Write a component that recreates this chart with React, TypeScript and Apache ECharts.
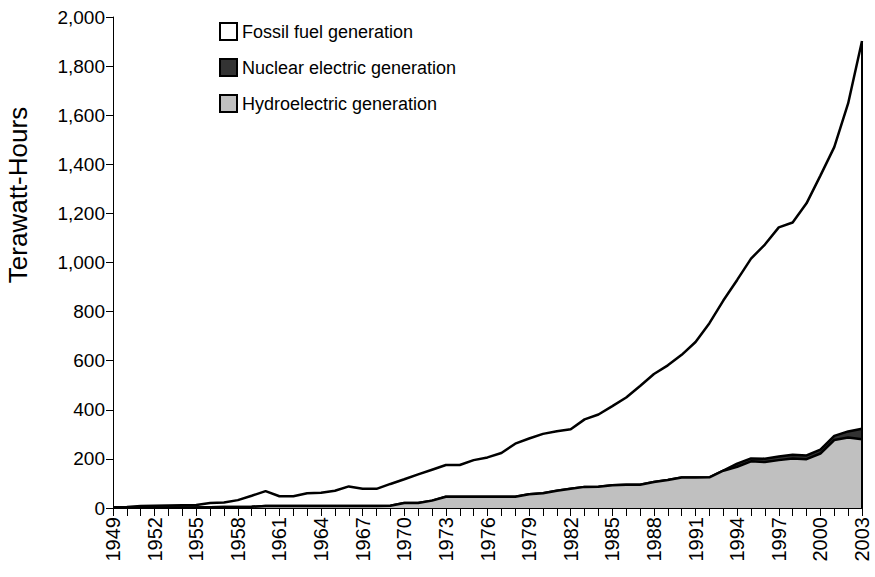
import React, { useEffect, useRef } from "react";
import * as echarts from "echarts";

const years: string[] = [];
for (let y = 1949; y <= 2003; y++) years.push(String(y));

const hydro = [
  1, 1, 1, 1, 2, 2, 2, 3, 4, 4,
  5, 8, 8, 8, 8, 8, 8, 8, 8, 8,
  9, 20, 20, 30, 46, 46, 46, 46, 46, 46,
  56, 60, 70, 78, 86, 87, 93, 95, 95, 106,
  114, 124, 124, 125, 152, 168, 190, 187, 195, 202,
  199, 222, 277, 287, 280,
];

const nuclear = [
  0, 0, 0, 0, 0, 0, 0, 0, 0, 0,
  0, 0, 0, 0, 0, 0, 0, 0, 0, 0,
  0, 0, 0, 0, 0, 0, 0, 0, 0, 0,
  0, 0, 0, 0, 0, 0, 0, 0, 0, 0,
  0, 0, 0, 0, 0, 13, 12, 14, 15, 15,
  15, 16, 17, 25, 43,
];

const fossil = [
  2, 3, 7, 8, 8, 9, 10, 17, 18, 28,
  45, 61, 40, 40, 52, 54, 62, 80, 70, 70,
  89, 97, 117, 126, 129, 129, 149, 160, 178, 216,
  227, 242, 243, 243, 275, 294, 322, 355, 402, 440,
  467, 500, 552, 628, 693, 748, 814, 872, 933, 946,
  1027, 1116, 1176, 1336, 1579,
];

const FONT = "'Liberation Sans', Arial, sans-serif";

export default function App() {
  const ref = useRef<HTMLDivElement>(null);
  useEffect(() => {
    if (!ref.current) return;
    const chart = echarts.init(ref.current, null, { renderer: "svg" });
    const last = years.length - 1;
    const lastTotal = hydro[last] + nuclear[last] + fossil[last];
    const lineStyle = { color: "#000", width: 2.5 };
    chart.setOption({
      animation: false,
      backgroundColor: "#fff",
      textStyle: { fontFamily: FONT, color: "#000" },
      grid: { left: 113, right: 13, top: 17, bottom: 69, containLabel: false },
      legend: {
        orient: "vertical",
        left: 214,
        top: 17,
        itemWidth: 17,
        itemHeight: 17,
        itemGap: 17,
        icon: "rect",
        textStyle: { fontSize: 18, color: "#000", fontFamily: FONT },
        data: [
          { name: "Fossil fuel generation", itemStyle: { color: "#fff", borderColor: "#000", borderWidth: 2 } },
          { name: "Nuclear electric generation", itemStyle: { color: "#333", borderColor: "#000", borderWidth: 2 } },
          { name: "Hydroelectric generation", itemStyle: { color: "#c0c0c0", borderColor: "#000", borderWidth: 2 } },
        ],
      },
      xAxis: {
        type: "category",
        data: years,
        boundaryGap: false,
        axisLine: { lineStyle: { color: "#000", width: 1 } },
        axisTick: { interval: 0, length: 8, lineStyle: { color: "#000" } },
        axisLabel: {
          interval: 2,
          rotate: 90,
          fontSize: 20,
          color: "#000",
          fontFamily: FONT,
          margin: 9,
        },
        splitLine: { show: false },
      },
      yAxis: {
        type: "value",
        min: 0,
        max: 2000,
        interval: 200,
        axisLine: { show: true, lineStyle: { color: "#000", width: 1 } },
        axisTick: { show: true, length: 7, lineStyle: { color: "#000" } },
        axisLabel: {
          fontSize: 19,
          color: "#000",
          fontFamily: FONT,
          margin: 8,
          formatter: (v: number) => v.toLocaleString("en-US"),
        },
        splitLine: { show: false },
      },
      graphic: [
        {
          type: "text",
          x: 18,
          y: 195,
          rotation: Math.PI / 2,
          style: {
            text: "Terawatt-Hours",
            fontSize: 26,
            fontFamily: FONT,
            fill: "#000",
            align: "center",
            verticalAlign: "middle",
          },
        },
      ],
      series: [
        {
          name: "Hydroelectric generation",
          type: "line",
          stack: "total",
          data: hydro,
          showSymbol: false,
          symbol: "none",
          lineStyle,
          itemStyle: { color: "#c0c0c0" },
          areaStyle: { color: "#c0c0c0", opacity: 1 },
          z: 3,
        },
        {
          name: "Nuclear electric generation",
          type: "line",
          stack: "total",
          data: nuclear,
          showSymbol: false,
          symbol: "none",
          lineStyle,
          itemStyle: { color: "#333" },
          areaStyle: { color: "#333", opacity: 1 },
          z: 2,
        },
        {
          name: "Fossil fuel generation",
          type: "line",
          stack: "total",
          data: fossil,
          showSymbol: false,
          symbol: "none",
          lineStyle,
          itemStyle: { color: "#fff" },
          areaStyle: { color: "#fff", opacity: 1 },
          z: 1,
          markLine: {
            silent: true,
            symbol: "none",
            label: { show: false },
            lineStyle: { color: "#000", width: 2, type: "solid" },
            data: [[{ coord: [years[last], 0] }, { coord: [years[last], lastTotal] }]],
          },
        },
      ],
    });
    return () => chart.dispose();
  }, []);
  return (
    <div
      ref={ref}
      style={{ position: "fixed", left: 0, top: 0, width: 875, height: 577 }}
    />
  );
}
